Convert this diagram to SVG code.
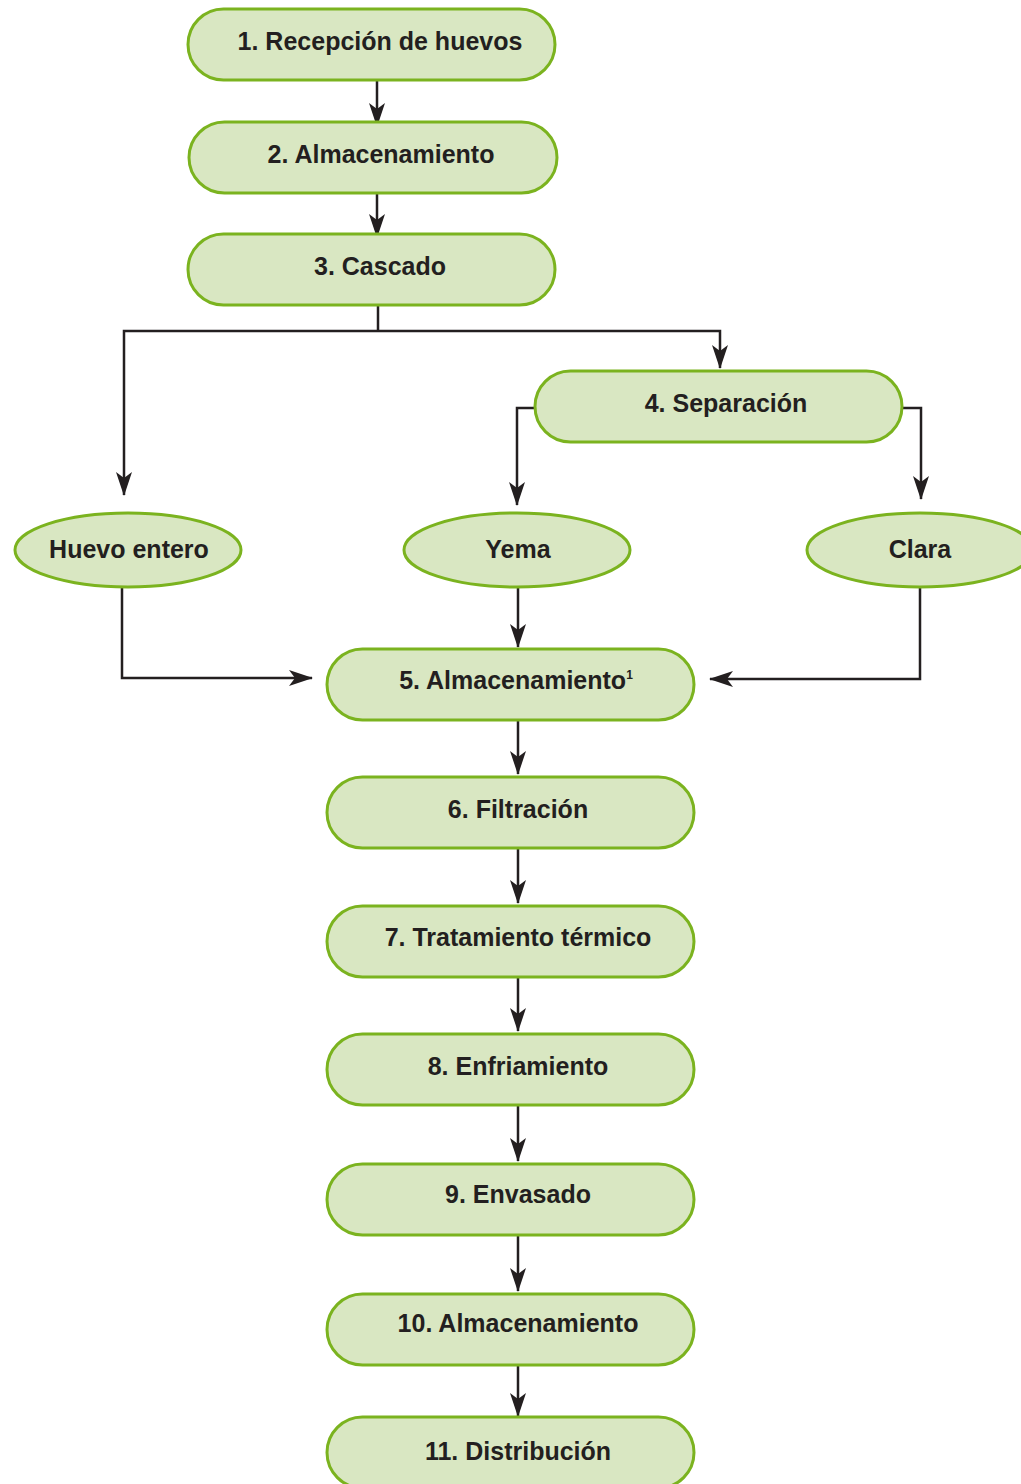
<svg xmlns="http://www.w3.org/2000/svg" width="1021" height="1484" viewBox="0 0 1021 1484">
<style>
.box{fill:#d9e7c2;stroke:#7bb31f;stroke-width:3}
.t{font-family:"Liberation Sans",Arial,sans-serif;font-weight:bold;font-size:25px;fill:#231f20;text-anchor:middle}
.c{fill:none;stroke:#231f20;stroke-width:2.5}
</style>
<defs>
<marker id="ah" markerWidth="24" markerHeight="16" viewBox="0 0 24 16" refX="23" refY="8" orient="auto" markerUnits="userSpaceOnUse">
<path d="M0,0 L24,8 L0,16 L6,8 Z" fill="#231f20"/>
</marker>
</defs>
<rect width="1021" height="1484" fill="#fff"/>
<g id="connectors">
<path class="c" d="M377,80 V126" marker-end="url(#ah)"/>
<path class="c" d="M377,193 V237" marker-end="url(#ah)"/>
<path class="c" d="M378,305 V331"/>
<path class="c" d="M378,331 H124 V495" marker-end="url(#ah)"/>
<path class="c" d="M378,331 H720 V368" marker-end="url(#ah)"/>
<path class="c" d="M535,408 H517 V505" marker-end="url(#ah)"/>
<path class="c" d="M902,408 H921 V499" marker-end="url(#ah)"/>
<path class="c" d="M122,587 V678 H312" marker-end="url(#ah)"/>
<path class="c" d="M518,588 V647" marker-end="url(#ah)"/>
<path class="c" d="M920,588 V679 H710" marker-end="url(#ah)"/>
<path class="c" d="M518,720 V774" marker-end="url(#ah)"/>
<path class="c" d="M518,848 V903" marker-end="url(#ah)"/>
<path class="c" d="M518,977 V1031" marker-end="url(#ah)"/>
<path class="c" d="M518,1105 V1161" marker-end="url(#ah)"/>
<path class="c" d="M518,1235 V1291" marker-end="url(#ah)"/>
<path class="c" d="M518,1365 V1416" marker-end="url(#ah)"/>
</g>
<g id="n1"><rect class="box" x="188" y="9" width="367" height="71" rx="35.5"/><text class="t" x="380" y="50">1. Recepción de huevos</text></g>
<g id="n2"><rect class="box" x="189" y="122" width="368" height="71" rx="35.5"/><text class="t" x="381" y="163">2. Almacenamiento</text></g>
<g id="n3"><rect class="box" x="188" y="234" width="367" height="71" rx="35.5"/><text class="t" x="380" y="275">3. Cascado</text></g>
<g id="n4"><rect class="box" x="535" y="371" width="367" height="71" rx="35.5"/><text class="t" x="726" y="412">4. Separación</text></g>
<g id="huevo"><ellipse class="box" cx="128" cy="550" rx="113" ry="37"/><text class="t" x="129" y="558">Huevo entero</text></g>
<g id="yema"><ellipse class="box" cx="517" cy="550" rx="113" ry="37"/><text class="t" x="518" y="558">Yema</text></g>
<g id="clara"><ellipse class="box" cx="920" cy="550" rx="113" ry="37"/><text class="t" x="920" y="558">Clara</text></g>
<g id="n5"><rect class="box" x="327" y="649" width="367" height="71" rx="35.5"/><text class="t" x="516" y="689">5. Almacenamiento<tspan font-size="12" dy="-10">1</tspan></text></g>
<g id="n6"><rect class="box" x="327" y="777" width="367" height="71" rx="35.5"/><text class="t" x="518" y="818">6. Filtración</text></g>
<g id="n7"><rect class="box" x="327" y="906" width="367" height="71" rx="35.5"/><text class="t" x="518" y="946">7. Tratamiento térmico</text></g>
<g id="n8"><rect class="box" x="327" y="1034" width="367" height="71" rx="35.5"/><text class="t" x="518" y="1075">8. Enfriamiento</text></g>
<g id="n9"><rect class="box" x="327" y="1164" width="367" height="71" rx="35.5"/><text class="t" x="518" y="1203">9. Envasado</text></g>
<g id="n10"><rect class="box" x="327" y="1294" width="367" height="71" rx="35.5"/><text class="t" x="518" y="1332">10. Almacenamiento</text></g>
<g id="n11"><rect class="box" x="327" y="1417" width="367" height="71" rx="35.5"/><text class="t" x="518" y="1460">11. Distribución</text></g>
</svg>
